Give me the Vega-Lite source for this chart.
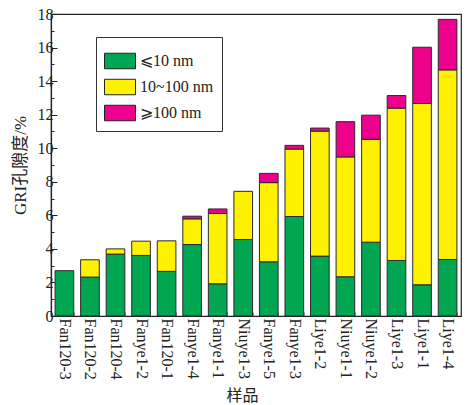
{
  "$schema": "https://vega.github.io/schema/vega-lite/v6.json",
  "width": 410,
  "height": 302,
  "autosize": "none",
  "padding": {"left": 51, "top": 14, "right": 9, "bottom": 89},
  "background": "white",
  "config": {
    "view": {"stroke": "#222", "strokeWidth": 1.2},
    "font": "Liberation Serif"
  },
  "data": {
    "values": [
      {"sample": "Fan120-3", "cls": "⩽10 nm", "ord": 1, "value": 2.70},
      {"sample": "Fan120-2", "cls": "⩽10 nm", "ord": 1, "value": 2.32},
      {"sample": "Fan120-2", "cls": "10~100 nm", "ord": 2, "value": 1.03},
      {"sample": "Fan120-4", "cls": "⩽10 nm", "ord": 1, "value": 3.69},
      {"sample": "Fan120-4", "cls": "10~100 nm", "ord": 2, "value": 0.31},
      {"sample": "Fanye1-2", "cls": "⩽10 nm", "ord": 1, "value": 3.61},
      {"sample": "Fanye1-2", "cls": "10~100 nm", "ord": 2, "value": 0.85},
      {"sample": "Fan120-1", "cls": "⩽10 nm", "ord": 1, "value": 2.66},
      {"sample": "Fan120-1", "cls": "10~100 nm", "ord": 2, "value": 1.82},
      {"sample": "Fanye1-4", "cls": "⩽10 nm", "ord": 1, "value": 4.26},
      {"sample": "Fanye1-4", "cls": "10~100 nm", "ord": 2, "value": 1.53},
      {"sample": "Fanye1-4", "cls": "⩾100 nm", "ord": 3, "value": 0.16},
      {"sample": "Fanye1-1", "cls": "⩽10 nm", "ord": 1, "value": 1.92},
      {"sample": "Fanye1-1", "cls": "10~100 nm", "ord": 2, "value": 4.19},
      {"sample": "Fanye1-1", "cls": "⩾100 nm", "ord": 3, "value": 0.27},
      {"sample": "Niuye1-3", "cls": "⩽10 nm", "ord": 1, "value": 4.56},
      {"sample": "Niuye1-3", "cls": "10~100 nm", "ord": 2, "value": 2.87},
      {"sample": "Fanye1-5", "cls": "⩽10 nm", "ord": 1, "value": 3.23},
      {"sample": "Fanye1-5", "cls": "10~100 nm", "ord": 2, "value": 4.72},
      {"sample": "Fanye1-5", "cls": "⩾100 nm", "ord": 3, "value": 0.55},
      {"sample": "Fanye1-3", "cls": "⩽10 nm", "ord": 1, "value": 5.93},
      {"sample": "Fanye1-3", "cls": "10~100 nm", "ord": 2, "value": 4.02},
      {"sample": "Fanye1-3", "cls": "⩾100 nm", "ord": 3, "value": 0.22},
      {"sample": "Liye1-2", "cls": "⩽10 nm", "ord": 1, "value": 3.57},
      {"sample": "Liye1-2", "cls": "10~100 nm", "ord": 2, "value": 7.45},
      {"sample": "Liye1-2", "cls": "⩾100 nm", "ord": 3, "value": 0.18},
      {"sample": "Niuye1-1", "cls": "⩽10 nm", "ord": 1, "value": 2.34},
      {"sample": "Niuye1-1", "cls": "10~100 nm", "ord": 2, "value": 7.14},
      {"sample": "Niuye1-1", "cls": "⩾100 nm", "ord": 3, "value": 2.10},
      {"sample": "Niuye1-2", "cls": "⩽10 nm", "ord": 1, "value": 4.40},
      {"sample": "Niuye1-2", "cls": "10~100 nm", "ord": 2, "value": 6.13},
      {"sample": "Niuye1-2", "cls": "⩾100 nm", "ord": 3, "value": 1.44},
      {"sample": "Liye1-3", "cls": "⩽10 nm", "ord": 1, "value": 3.31},
      {"sample": "Liye1-3", "cls": "10~100 nm", "ord": 2, "value": 9.08},
      {"sample": "Liye1-3", "cls": "⩾100 nm", "ord": 3, "value": 0.75},
      {"sample": "Liye1-1", "cls": "⩽10 nm", "ord": 1, "value": 1.86},
      {"sample": "Liye1-1", "cls": "10~100 nm", "ord": 2, "value": 10.81},
      {"sample": "Liye1-1", "cls": "⩾100 nm", "ord": 3, "value": 3.35},
      {"sample": "Liye1-4", "cls": "⩽10 nm", "ord": 1, "value": 3.37},
      {"sample": "Liye1-4", "cls": "10~100 nm", "ord": 2, "value": 11.30},
      {"sample": "Liye1-4", "cls": "⩾100 nm", "ord": 3, "value": 3.01}
    ]
  },
  "mark": {"type": "bar", "stroke": "#2a2a2a", "strokeWidth": 1},
  "encoding": {
    "x": {
      "field": "sample",
      "type": "nominal",
      "sort": null,
      "scale": {"paddingInner": 0.27, "paddingOuter": 0.16},
      "axis": {
        "title": "样品",
        "titleFont": "Noto Sans CJK SC",
        "titleFontSize": 16,
        "titleFontWeight": "normal",
        "titleColor": "#222",
        "titleX": 191,
        "titleY": 79,
        "titleAlign": "center",
        "titleBaseline": "middle",
        "labelAngle": 90,
        "labelAlign": "left",
        "labelBaseline": "middle",
        "labelFontSize": 16,
        "labelColor": "#222",
        "labelPadding": 6,
        "tickBand": "extent",
        "tickSize": -4,
        "tickColor": "#888",
        "domainColor": "#222",
        "domainWidth": 1.2
      }
    },
    "y": {
      "field": "value",
      "type": "quantitative",
      "stack": "zero",
      "scale": {"domain": [0, 18], "nice": false},
      "axis": {
        "title": "GRI孔隙度/%",
        "titleFont": "Liberation Serif, Noto Sans CJK SC",
        "titleFontSize": 17,
        "titleFontWeight": "normal",
        "titleColor": "#222",
        "titleX": -31,
        "titleY": 151,
        "titleAlign": "center",
        "titleBaseline": "middle",
        "values": [0,1,2,3,4,5,6,7,8,9,10,11,12,13,14,15,16,17,18],
        "labelExpr": "datum.value % 2 === 0 ? datum.label : ''",
        "labelFontSize": 16,
        "labelColor": "#222",
        "labelPadding": 4,
        "tickSize": {"condition": {"test": "datum.value % 2 === 0", "value": -6}, "value": -3},
        "tickColor": "#222",
        "domainColor": "#222",
        "domainWidth": 1.2,
        "grid": false
      }
    },
    "color": {
      "field": "cls",
      "type": "nominal",
      "scale": {
        "domain": ["⩽10 nm", "10~100 nm", "⩾100 nm"],
        "range": ["#00a651", "#fff200", "#ec008c"]
      },
      "legend": {
        "title": null,
        "orient": "none",
        "legendX": 45,
        "legendY": 23,
        "direction": "vertical",
        "strokeColor": "#333",
        "fillColor": "white",
        "padding": 8,
        "rowPadding": -6,
        "symbolType": "M-1,-0.5H1V0.5H-1Z",
        "symbolSize": 961,
        "symbolStrokeColor": "#222",
        "symbolStrokeWidth": 1,
        "symbolOpacity": 1,
        "labelFontSize": 16,
        "labelFont": "Liberation Serif, DejaVu Serif",
        "labelColor": "#222",
        "labelOffset": 4
      }
    },
    "order": {"field": "ord", "type": "quantitative"}
  }
}
